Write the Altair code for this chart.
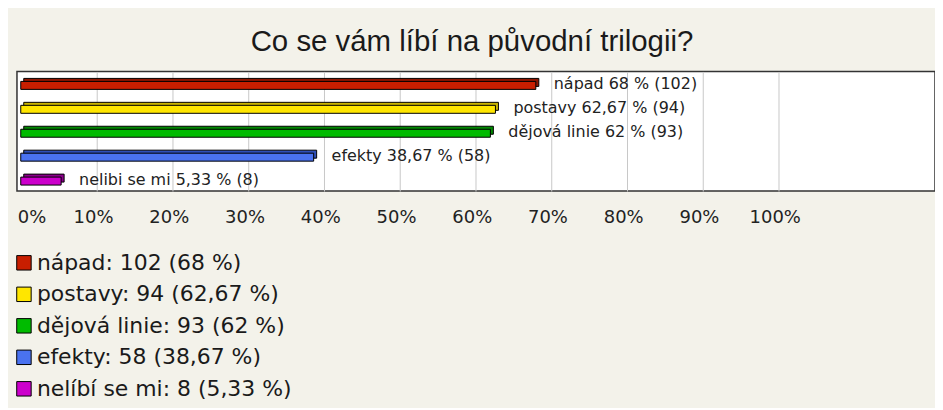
import altair as alt
import pandas as pd

categories = ["nápad", "postavy", "dějová linie", "efekty", "nelíbí se mi"]
counts = [102, 94, 93, 58, 8]
percents = [68.0, 62.67, 62.0, 38.67, 5.33]
bar_labels = [
    "nápad 68 % (102)",
    "postavy 62,67 % (94)",
    "dějová linie 62 % (93)",
    "efekty 38,67 % (58)",
    "nelibi se mi 5,33 % (8)",
]
legend_labels = [
    "nápad: 102 (68 %)",
    "postavy: 94 (62,67 %)",
    "dějová linie: 93 (62 %)",
    "efekty: 58 (38,67 %)",
    "nelíbí se mi: 8 (5,33 %)",
]
front_colors = ["#c81e00", "#ffe600", "#00bb00", "#4a72f0", "#cc00cc"]
top_colors = ["#8e1500", "#c9b400", "#008800", "#2f4fb8", "#8a008a"]
tick_values = [0, 10, 20, 30, 40, 50, 60, 70, 80, 90, 100]

df = pd.DataFrame({
    "cat": categories,
    "count": counts,
    "pct": percents,
    "label": bar_labels,
    "legend": legend_labels,
    "top": top_colors,
})

xscale = alt.Scale(domain=[-0.5, 120.7], nice=False, zero=False)
xaxis = alt.Axis(
    values=tick_values,
    labelExpr="datum.value + '%'",
    grid=True,
    gridColor=alt.condition("datum.value === 0", alt.value("transparent"), alt.value("#c8c8c8")),
    gridWidth=1,
    domain=False,
    ticks=False,
    labelFont="DejaVu Sans",
    labelFontSize=18,
    labelColor="#222222",
    labelPadding=18,
    labelOffset=-3.5,
    labelFlush=5,
    title=None,
)

base = alt.Chart(df).encode(
    y=alt.Y("cat:N", sort=categories, axis=None,
            scale=alt.Scale(paddingInner=0, paddingOuter=0)),
)

back = base.mark_bar(size=8, xOffset=3, x2Offset=3, yOffset=-1, y2Offset=-1,
                     stroke="black", strokeWidth=1).encode(
    x=alt.X("pct:Q", scale=xscale, axis=xaxis),
    color=alt.Color("top:N", scale=None),
)

front = base.mark_bar(size=8, yOffset=2, y2Offset=2, stroke="black", strokeWidth=1).encode(
    x=alt.X("pct:Q", scale=xscale, axis=xaxis),
    color=alt.Color(
        "legend:N",
        sort=legend_labels,
        scale=alt.Scale(domain=legend_labels, range=front_colors),
        legend=alt.Legend(
            orient="none",
            legendX=-4,
            legendY=181,
            direction="vertical",
            title=None,
            symbolType="square",
            symbolSize=210,
            symbolStrokeColor="#222222",
            symbolStrokeWidth=1,
            symbolOpacity=1,
            labelFont="DejaVu Sans",
            labelFontSize=22,
            labelColor="#1a1a1a",
            labelOffset=2,
            rowPadding=9.6,
            padding=0,
            labelLimit=500,
        ),
    ),
)

text = base.mark_text(align="left", baseline="middle", dx=18, dy=1,
                      font="DejaVu Sans", fontSize=16, color="#222222").encode(
    x=alt.X("pct:Q", scale=xscale, axis=xaxis),
    text="label:N",
)

chart = alt.layer(back, front, text).properties(
    width=921,
    height=120,
    padding={"left": 9, "top": 63, "right": 0, "bottom": 217},
    autosize=alt.AutoSizeParams(type="none"),
    background="#f3f2ea",
    title=alt.TitleParams(
        "Co se vám líbí na původní trilogii?",
        font="Liberation Sans",
        fontSize=29.5,
        fontWeight="normal",
        color="#1a1a1a",
        anchor="middle",
        offset=14,
        dx=-4,
    ),
).configure_view(
    stroke="#333333",
    strokeWidth=1.5,
    fill="white",
)

chart.save("out.html", embed_options={"renderer": "svg", "actions": False})
